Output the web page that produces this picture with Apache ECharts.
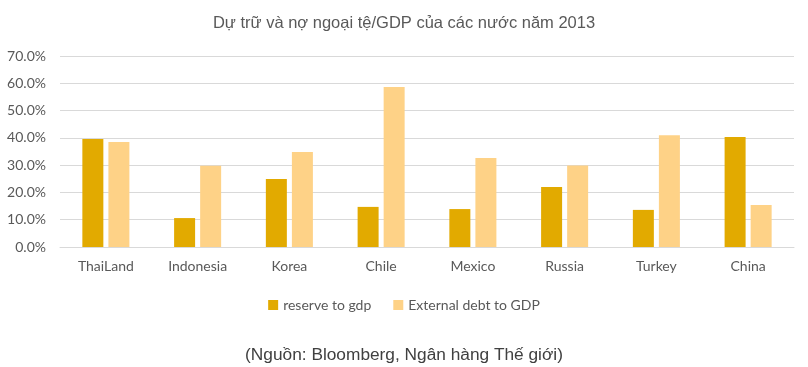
<!DOCTYPE html>
<html><head><meta charset="utf-8">
<script src="https://cdn.jsdelivr.net/npm/echarts@6/dist/echarts.min.js"></script>
<style>html,body{margin:0;padding:0;background:#fff}#c{width:808px;height:367px}</style>
</head><body><div id="c"></div>
<script>
const categories = ['ThaiLand','Indonesia','Korea','Chile','Mexico','Russia','Turkey','China'];
const reserveToGdp = [39.6, 10.6, 24.9, 14.7, 13.9, 22.0, 13.6, 40.3];
const externalDebtToGdp = [38.5, 29.8, 34.8, 58.6, 32.6, 29.9, 41.0, 15.4];
const seriesNames = ['reserve to gdp', 'External debt to GDP'];
const titleText = 'Dự trữ và nợ ngoại tệ/GDP của các nước năm 2013';
const sourceText = '(Nguồn: Bloomberg, Ngân hàng Thế giới)';

const chart = echarts.init(document.getElementById('c'));
chart.setOption({
  animation: false,
  backgroundColor: '#fff',
  title: [
    {text: titleText, left: 'center', top: 10, textStyle: {fontFamily: 'Liberation Sans, Arial', fontSize: 16.5, fontWeight: 'normal', color: '#595959'}},
    {text: sourceText, left: 'center', top: 342, textStyle: {fontFamily: 'Liberation Sans, Arial', fontSize: 17.3, fontWeight: 'normal', color: '#404040'}}
  ],
  legend: {
    top: 293, left: 'center', itemWidth: 10, itemHeight: 10, itemGap: 22, icon: 'rect',
    textStyle: {fontFamily: 'Lato, Noto Sans', fontSize: 14, color: '#595959'},
    data: seriesNames
  },
  grid: {left: 60, right: 14, top: 56, bottom: 120},
  xAxis: {
    type: 'category', data: categories,
    axisLine: {lineStyle: {color: '#d9d9d9'}}, axisTick: {show: false},
    axisLabel: {fontFamily: 'Lato, Noto Sans', fontSize: 14, color: '#595959', margin: 12}
  },
  yAxis: {
    type: 'value', min: 0, max: 70, interval: 10,
    axisLabel: {formatter: v => v.toFixed(1) + '%', fontFamily: 'Lato, Noto Sans', fontSize: 14, color: '#595959', margin: 14},
    splitLine: {lineStyle: {color: '#d9d9d9'}}
  },
  series: [
    {name: seriesNames[0], type: 'bar', data: reserveToGdp, itemStyle: {color: '#E2AA00'}, barWidth: 21, barGap: '24%'},
    {name: seriesNames[1], type: 'bar', data: externalDebtToGdp, itemStyle: {color: '#FED287'}, barWidth: 21, barGap: '24%'}
  ]
});
</script></body></html>
